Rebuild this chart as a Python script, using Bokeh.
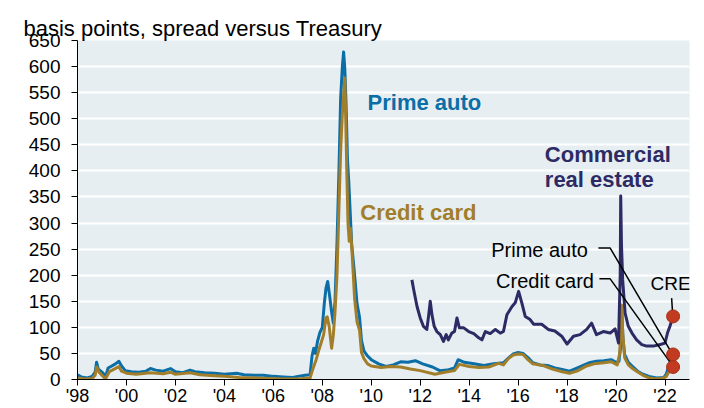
from bokeh.plotting import figure
from bokeh.models import Range1d, FixedTicker, Label, Title
from bokeh.embed import file_html
from bokeh.resources import INLINE

# ---------------- data ----------------
auto_years = [1998.00, 1998.15, 1998.40, 1998.60, 1998.72, 1998.78, 1998.85, 1998.95, 1999.05, 1999.14,
              1999.25, 1999.40, 1999.55, 1999.69, 1999.80, 1999.95, 2000.2, 2000.5, 2000.8, 2000.98,
              2001.2, 2001.5, 2001.8, 2002.0, 2002.3, 2002.6, 2002.8, 2003.2, 2003.6, 2004.0,
              2004.5, 2004.8, 2005.2, 2005.6, 2006.0, 2006.4, 2006.8, 2007.0, 2007.3, 2007.5,
              2007.58, 2007.65, 2007.72, 2007.8, 2007.9, 2008.0, 2008.08, 2008.15, 2008.22, 2008.3,
              2008.38, 2008.45, 2008.52, 2008.6, 2008.68, 2008.75, 2008.82, 2008.87, 2008.92, 2008.97,
              2009.03, 2009.08, 2009.13, 2009.2, 2009.3, 2009.42, 2009.52, 2009.6, 2009.7, 2009.85,
              2010.0, 2010.3, 2010.6, 2010.9, 2011.2, 2011.5, 2011.8, 2012.1, 2012.5, 2012.8,
              2013.1, 2013.4, 2013.55, 2013.8, 2014.2, 2014.6, 2015.0, 2015.4, 2015.6, 2015.8,
              2016.0, 2016.2, 2016.4, 2016.6, 2016.9, 2017.2, 2017.5, 2017.8, 2018.1, 2018.4,
              2018.7, 2018.9, 2019.2, 2019.5, 2019.8, 2020.0, 2020.12, 2020.18, 2020.23, 2020.28,
              2020.35, 2020.5, 2020.7, 2020.9, 2021.1, 2021.35, 2021.65, 2021.95, 2022.05, 2022.15,
              2022.25, 2022.33]
auto_vals = [9, 5, 3, 6, 14, 33, 20, 16, 12, 4,
             22, 26, 30, 35, 26, 17, 15, 14, 16, 21,
             18, 16, 21, 15, 13, 18, 15, 13, 12, 10,
             12, 9, 8, 8, 6, 5, 4, 6, 8, 9,
             45, 60, 50, 72, 90, 100, 145, 175, 188, 160,
             130, 108, 150, 260, 400, 540, 600, 628, 595, 530,
             420, 380, 330, 260, 210, 145, 120, 75, 55, 45,
             38, 30, 25, 28, 34, 33, 36, 30, 24, 17,
             18, 22, 38, 33, 30, 27, 30, 32, 41, 49,
             52, 50, 42, 32, 28, 27, 22, 19, 16, 22,
             28, 32, 35, 36, 38, 33, 35, 60, 140, 80,
             48, 33, 24, 15, 10, 6, 3, 4, 10, 25,
             40, 48]

card_years = [1998.00, 1998.3, 1998.6, 1998.72, 1998.78, 1998.88, 1999.0, 1999.14, 1999.3, 1999.5,
              1999.69, 1999.8, 2000.0, 2000.4, 2000.98, 2001.5, 2001.8, 2002.0, 2002.6, 2003.0,
              2003.6, 2004.0, 2004.6, 2005.2, 2005.8, 2006.4, 2007.0, 2007.5, 2007.58, 2007.65,
              2007.75, 2007.85, 2007.95, 2008.05, 2008.15, 2008.2, 2008.28, 2008.38, 2008.45, 2008.52,
              2008.6, 2008.68, 2008.75, 2008.82, 2008.92, 2008.96, 2009.0, 2009.05, 2009.1, 2009.15,
              2009.22, 2009.32, 2009.42, 2009.52, 2009.6, 2009.7, 2009.85, 2010.0, 2010.4, 2010.8,
              2011.2, 2011.6, 2012.0, 2012.6, 2013.0, 2013.4, 2013.6, 2014.0, 2014.4, 2014.8,
              2015.2, 2015.4, 2015.6, 2015.8, 2016.0, 2016.2, 2016.4, 2016.6, 2017.0, 2017.4,
              2017.8, 2018.1, 2018.4, 2018.8, 2019.1, 2019.5, 2019.8, 2020.05, 2020.15, 2020.22,
              2020.28, 2020.35, 2020.5, 2020.7, 2020.9, 2021.1, 2021.35, 2021.65, 2021.95, 2022.05,
              2022.2, 2022.33]
card_vals = [3, 1, 2, 8, 24, 14, 8, 1, 15, 20,
             25, 16, 12, 10, 13, 11, 14, 10, 13, 9,
             7, 6, 4, 3, 2, 1, 1, 3, 15, 25,
             38, 55, 70, 85, 118, 120, 102, 60, 85, 130,
             200, 330, 440, 510, 578, 495, 400, 300, 265, 290,
             240, 155, 110, 95, 52, 40, 30, 26, 23, 25,
             24, 20, 17, 10, 14, 17, 29, 25, 23, 24,
             31, 28, 40, 47, 49, 48, 38, 30, 27, 20,
             15, 12, 16, 26, 30, 32, 34, 28, 50, 143,
             83, 42, 28, 20, 14, 8, 3, 1, 3, 6,
             18, 24]

cre_years = [2011.66, 2011.76, 2011.87, 2012.00, 2012.13, 2012.27, 2012.34, 2012.41, 2012.48, 2012.57,
             2012.68, 2012.82, 2012.95, 2013.06, 2013.15, 2013.29, 2013.40, 2013.50, 2013.60, 2013.78,
             2013.98, 2014.19, 2014.39, 2014.52, 2014.66, 2014.86, 2015.07, 2015.27, 2015.40, 2015.54,
             2015.75, 2015.88, 2016.02, 2016.15, 2016.29, 2016.49, 2016.63, 2016.96, 2017.23, 2017.5,
             2017.78, 2018.0, 2018.26, 2018.53, 2018.8, 2019.0, 2019.2, 2019.48, 2019.76, 2019.96,
             2020.10, 2020.17, 2020.19, 2020.22, 2020.27, 2020.37, 2020.5, 2020.65, 2020.84, 2021.05,
             2021.25, 2021.52, 2021.8, 2022.0, 2022.1, 2022.2, 2022.33]
cre_vals = [191, 166, 140, 118, 102, 96, 121, 150, 124, 102,
            92, 86, 73, 86, 76, 89, 92, 118, 99, 99,
            92, 88, 80, 76, 92, 88, 96, 89, 92, 124,
            140, 147, 169, 147, 121, 115, 106, 106, 96, 93,
            83, 68, 83, 86, 96, 108, 86, 92, 89, 97,
            70, 200, 352, 260, 191, 127, 102, 89, 76, 67,
            64, 64, 67, 70, 89, 102, 121]

end_year = 2022.33
end_values = [121, 48, 24]          # CRE, Prime auto, Credit card (latest)

tick_years = [1998, 2000, 2002, 2004, 2006, 2008, 2010, 2012, 2014, 2016, 2018, 2020, 2022]
tick_labels = ["'98", "'00", "'02", "'04", "'06", "'08", "'10", "'12", "'14", "'16", "'18", "'20", "'22"]
y_ticks = [0, 50, 100, 150, 200, 250, 300, 350, 400, 450, 500, 550, 600, 650]

subtitle = "basis points, spread versus Treasury"

# ---------------- styling ----------------
BLUE = "#0B6EA6"
GOLD = "#A27E2A"
NAVY = "#2D2A64"
RED = "#C23A1F"
BG = "#E6EEF2"
FONT = "Liberation Sans"

p = figure(width=704, height=408, x_range=Range1d(1998, 2023), y_range=Range1d(0, 650),
           output_backend="svg", toolbar_location=None,
           min_border_left=77, min_border_right=15, min_border_top=40, min_border_bottom=28)
p.title = Title(text=subtitle, align="left", offset=-54, text_font=FONT, text_font_size="22px",
                text_font_style="normal", text_color="black", standoff=0, text_line_height=0.5)
p.background_fill_color = BG
p.border_fill_color = "white"
p.outline_line_color = None
p.xgrid.visible = False
p.ygrid.grid_line_color = "white"
p.ygrid.grid_line_width = 2

p.yaxis.ticker = FixedTicker(ticks=y_ticks)
p.yaxis.major_label_text_font = FONT
p.yaxis.major_label_text_font_size = "19px"
p.yaxis.major_label_text_color = "black"
p.yaxis.major_tick_out = 6
p.yaxis.major_tick_in = 0
p.yaxis.minor_tick_out = 0
p.yaxis.minor_tick_in = 0
p.yaxis.major_label_standoff = 11
p.yaxis.axis_line_color = "black"

p.xaxis.ticker = FixedTicker(ticks=tick_years)
p.xaxis.major_label_overrides = {y: l for y, l in zip(tick_years, tick_labels)}
p.xaxis.major_label_text_font = FONT
p.xaxis.major_label_text_font_size = "18px"
p.xaxis.major_label_text_color = "black"
p.xaxis.major_tick_out = 6
p.xaxis.major_tick_in = 0
p.xaxis.minor_tick_out = 0
p.xaxis.minor_tick_in = 0
p.xaxis.major_label_standoff = 0
p.xaxis.axis_line_color = "black"

# series
p.line(auto_years, auto_vals, line_color=BLUE, line_width=3, line_join="round")
p.line(card_years, card_vals, line_color=GOLD, line_width=3, line_join="round")
p.line(cre_years, cre_vals, line_color=NAVY, line_width=3, line_join="round")

# leader lines
p.line([2019.28, 2019.76, 2022.27], [252, 252, 51], line_color="black", line_width=1.5)
p.line([2019.32, 2019.76, 2022.27], [193, 193, 29], line_color="black", line_width=1.5)
p.line([2022.27, 2022.31], [156, 127], line_color="black", line_width=1.5)

# end dots
p.scatter([end_year] * 3, end_values, size=13, fill_color=RED, line_color="#A8301A", line_width=1)

def lab(x, y, t, color="black", size="22px", bold=False, align="left"):
    p.add_layout(Label(x=x, y=y, text=t, text_color=color, text_font=FONT, text_font_size=size,
                       text_font_style="bold" if bold else "normal", text_align=align,
                       text_baseline="middle"))

lab(2009.85, 531, "Prime auto", BLUE, bold=True)
lab(2009.55, 320, "Credit card", GOLD, bold=True)
lab(2017.09, 432, "Commercial", NAVY, bold=True)
lab(2017.09, 384, "real estate", NAVY, bold=True)
lab(2014.90, 249, "Prime auto", size="20px")
lab(2015.10, 189, "Credit card", size="20px")
lab(2021.41, 185, "CRE", size="19px")

open("out.html", "w").write(file_html(p, INLINE))
